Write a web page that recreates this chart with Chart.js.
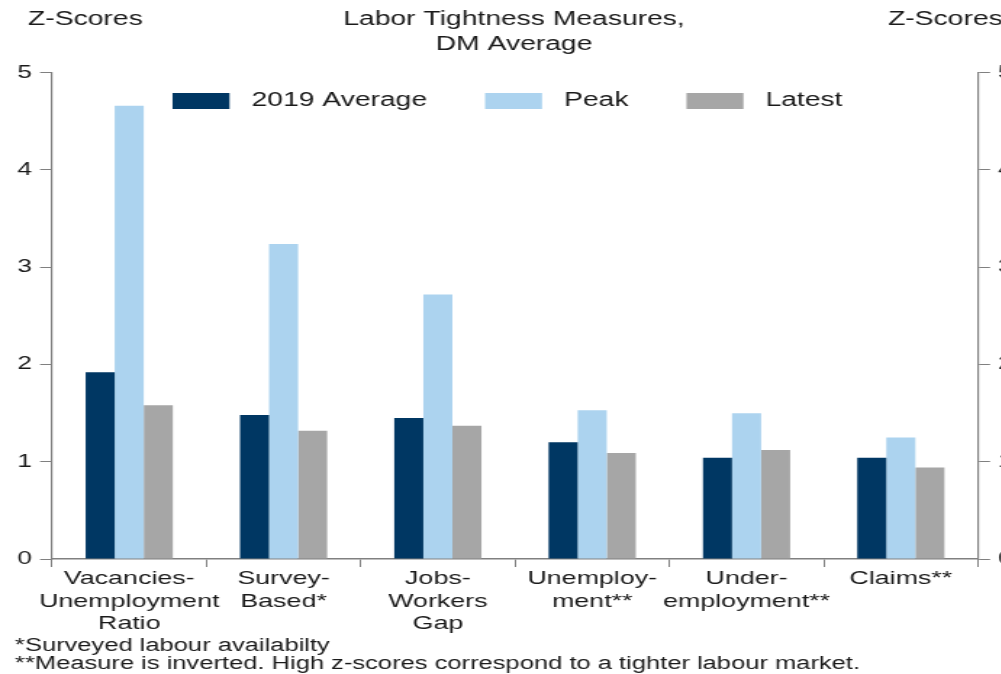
<!DOCTYPE html>
<html lang="en">
<head>
<meta charset="UTF-8">
<title>Labor Tightness Measures, DM Average</title>
<script src="https://cdn.jsdelivr.net/npm/chart.js"></script>
<style>
  html, body { margin: 0; padding: 0; background: #fff; overflow: hidden; }
  /* the chart is laid out narrow and widened, giving the broad lettering */
  #wrap { width: 700px; height: 674px; transform: scaleX(1.45); transform-origin: 0 0; }
</style>
</head>
<body>
<div id="wrap"><canvas id="tightness"></canvas></div>
<script>
  const categories = [
    ['Vacancies-', 'Unemployment', 'Ratio'],
    ['Survey-', 'Based*'],
    ['Jobs-', 'Workers', 'Gap'],
    ['Unemploy-', 'ment**'],
    ['Under-', 'employment**'],
    ['Claims**']
  ];
  const avg2019 = [1.92, 1.48, 1.45, 1.20, 1.04, 1.04];
  const peak    = [4.66, 3.24, 2.72, 1.53, 1.50, 1.25];
  const latest  = [1.58, 1.32, 1.37, 1.09, 1.12, 0.94];

  const titleLines = ['Labor Tightness Measures,', 'DM Average'];
  const axisUnit = 'Z-Scores';
  const footnotes = [
    '*Surveyed labour availabilty',
    '**Measure is inverted. High z-scores correspond to a tighter labour market.'
  ];

  const FONT = 'Arial, "Liberation Sans", sans-serif';
  const TEXT = '#1a1a1a';
  const AXIS = '#808080';

  // titles, unit labels and footnotes around the plot
  const annotations = {
    id: 'annotations',
    afterDraw(chart) {
      const ctx = chart.ctx;
      ctx.save();
      ctx.fillStyle = TEXT;
      ctx.textBaseline = 'middle';
      ctx.font = '19.5px ' + FONT;
      ctx.textAlign = 'left';
      ctx.fillText(axisUnit, 19.3, 20);
      ctx.fillText(axisUnit, 612.4, 20);
      ctx.textAlign = 'center';
      ctx.fillText(titleLines[0], 354.5, 20);
      ctx.fillText(titleLines[1], 354.5, 45);
      ctx.textAlign = 'left';
      ctx.font = '17.6px ' + FONT;
      ctx.fillText(footnotes[0], 10.3, 646);
      ctx.fillText(footnotes[1], 10.3, 664);
      ctx.restore();
    }
  };

  // the legend takes little room in the layout, then is allowed to draw
  // down into the top of the plot area
  const legendInside = {
    id: 'legendInside',
    afterInit(chart) {
      const fit = chart.legend.fit;
      chart.legend.fit = function () {
        fit.call(this);
        this.height = 21.5;
      };
    },
    beforeDraw(chart) {
      const lg = chart.legend;
      lg.height = 80;
      lg.bottom = lg.top + 80;
    }
  };

  const yAxis = (position, width) => ({
    position: position,
    min: 0,
    max: 5,
    ticks: { stepSize: 1, padding: 5.5, color: TEXT, font: { size: 18, family: FONT } },
    grid: { drawOnChartArea: false, tickLength: 8.3, color: AXIS },
    border: { color: AXIS, width: 1.2 },
    afterFit(scale) { scale.width = width; }
  });

  new Chart(document.getElementById('tightness'), {
    type: 'bar',
    data: {
      labels: categories,
      datasets: [
        { label: '2019 Average', data: avg2019, backgroundColor: '#003763' },
        { label: 'Peak', data: peak, backgroundColor: '#acd3ef' },
        { label: 'Latest', data: latest, backgroundColor: '#a6a6a6' }
      ]
    },
    options: {
      responsive: true,
      maintainAspectRatio: false,
      animation: false,
      datasets: { bar: { categoryPercentage: 0.565, barPercentage: 1, borderWidth: 0 } },
      layout: { padding: { top: 51.25, left: 0, right: 0, bottom: 0 } },
      plugins: {
        legend: {
          position: 'top',
          labels: {
            boxWidth: 39.3,
            boxHeight: 16,
            padding: 40,
            color: TEXT,
            font: { size: 19.5, family: FONT },
            // a little more room between swatch and text
            generateLabels(chart) {
              return Chart.defaults.plugins.legend.labels.generateLabels(chart)
                .map(item => ({ ...item, text: ' ' + item.text }));
            }
          }
        },
        tooltip: { enabled: false }
      },
      scales: {
        x: {
          grid: { display: true, drawOnChartArea: false, offset: true, tickLength: 8, color: AXIS },
          border: { color: AXIS, width: 1.5 },
          ticks: {
            autoSkip: false,
            maxRotation: 0,
            padding: 0,
            color: TEXT,
            font: { size: 18.5, lineHeight: 1.24, family: FONT }
          },
          afterFit(scale) { scale.height = 115; }
        },
        y: yAxis('left', 35.9),
        y2: yAxis('right', 25.5)
      }
    },
    plugins: [legendInside, annotations]
  });
</script>
</body>
</html>
